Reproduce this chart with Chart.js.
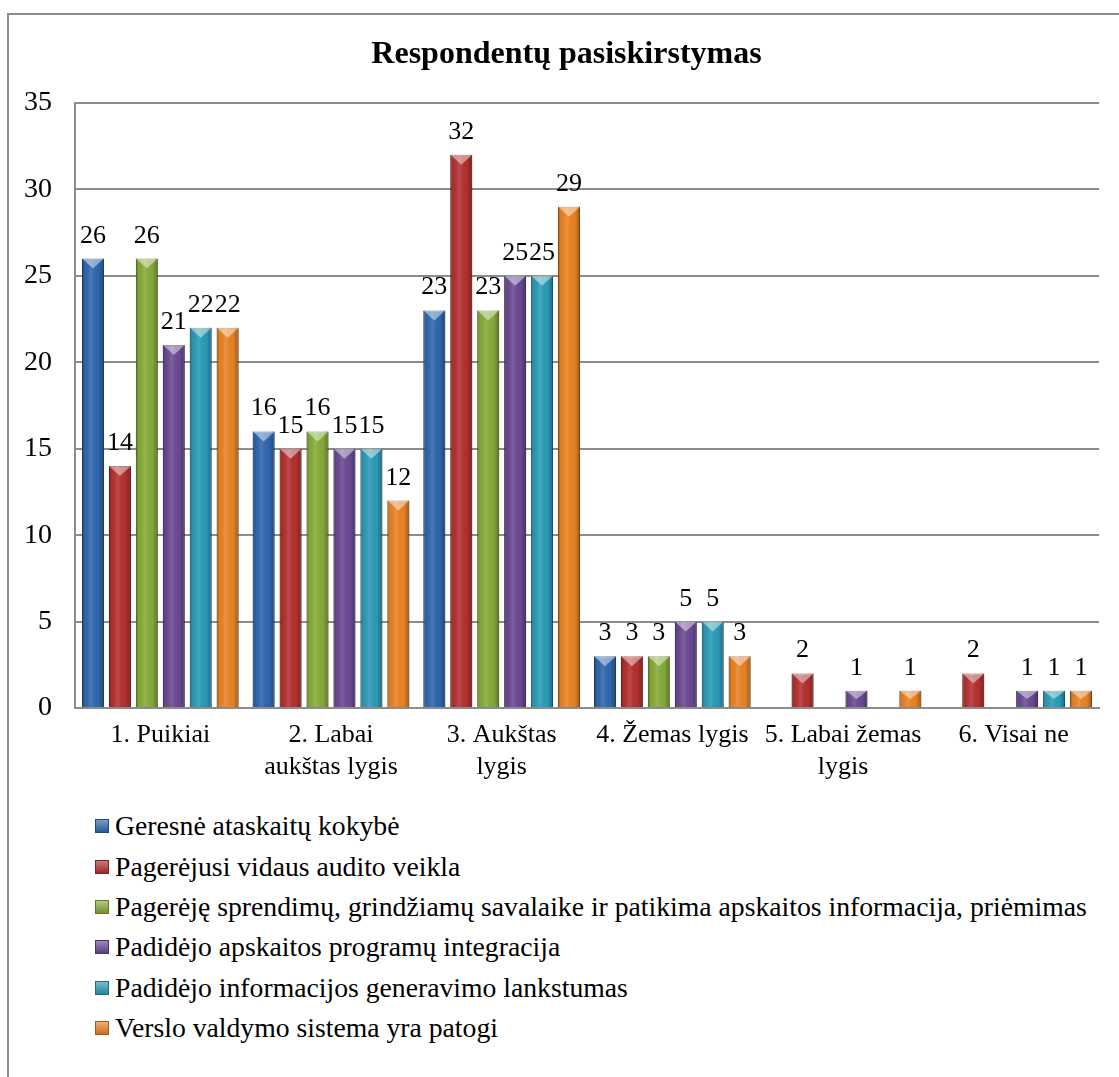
<!DOCTYPE html>
<html>
<head>
<meta charset="utf-8">
<script src="https://cdn.jsdelivr.net/npm/chart.js@4.4.0/dist/chart.umd.min.js"></script>
<style>
  html, body { margin: 0; padding: 0; background: #fff; }
  #page { position: relative; width: 1119px; height: 1077px; overflow: hidden; font-family: 'Liberation Serif', 'Times New Roman', serif; }
  #frame { position: absolute; left: 7px; top: 13px; right: -10px; bottom: -10px; border-left: 2px solid #8c8c8c; border-top: 2px solid #8c8c8c; }
  #wrap { position: absolute; left: 0; top: 0; width: 1119px; height: 791px; }
  #legend { position: absolute; left: 95px; top: 806px; }
  .row { height: 40.4px; display: flex; align-items: center; font-size: 27.7px; color: #000; white-space: nowrap; }
  .box { width: 14px; height: 14px; margin-right: 6px; box-sizing: border-box; }
</style>
</head>
<body>
<div id="page">
  <div id="frame"></div>
  <div id="wrap"><canvas id="chart"></canvas></div>
  <div id="legend"></div>
</div>
<script>
const title = 'Respondentų pasiskirstymas';

const categories = [
  '1. Puikiai',
  ['2. Labai', 'aukštas lygis'],
  ['3. Aukštas', 'lygis'],
  '4. Žemas lygis',
  ['5. Labai žemas', 'lygis'],
  '6. Visai ne'
];

const seriesNames = [
  'Geresnė ataskaitų kokybė',
  'Pagerėjusi vidaus audito veikla',
  'Pagerėję sprendimų, grindžiamų savalaike ir patikima apskaitos informacija, priėmimas',
  'Padidėjo apskaitos programų integracija',
  'Padidėjo informacijos generavimo lankstumas',
  'Verslo valdymo sistema yra patogi'
];

const ataskaituKokybe = [26, 16, 23, 3, null, null];
const vidausAuditas = [14, 15, 32, 3, 2, 2];
const sprendimai = [26, 16, 23, 3, null, null];
const integracija = [21, 15, 25, 5, 1, 1];
const lankstumas = [22, 15, 25, 5, null, 1];
const patogi = [22, 12, 29, 3, 1, 1];

const yTicks = [0, 5, 10, 15, 20, 25, 30, 35];

const seriesValues = [ataskaituKokybe, vidausAuditas, sprendimai, integracija, lankstumas, patogi];
const colors = ['#2F67AE', '#B53030', '#87AC38', '#6B4A94', '#2A9CB8', '#EC8323'];
const borders = ['#1F4A80', '#802020', '#5F7C25', '#4A3268', '#1D6F84', '#A85A15'];

const font = "'Liberation Serif', 'Times New Roman', serif";

// bevelled bars + value labels
const bevel = {
  id: 'bevel',
  afterDatasetsDraw(chart) {
    const ctx = chart.ctx;
    chart.data.datasets.forEach((ds, i) => {
      const meta = chart.getDatasetMeta(i);
      meta.data.forEach((bar, j) => {
        const v = ds.data[j];
        if (v === null || v === undefined) return;
        const w = bar.width;
        const left = bar.x - w / 2;
        const right = bar.x + w / 2;
        ctx.save();
        const g = ctx.createLinearGradient(left, 0, right, 0);
        g.addColorStop(0, 'rgba(0,0,0,0.30)');
        g.addColorStop(0.12, 'rgba(0,0,0,0.05)');
        g.addColorStop(0.4, 'rgba(255,255,255,0.12)');
        g.addColorStop(0.75, 'rgba(0,0,0,0.02)');
        g.addColorStop(1, 'rgba(0,0,0,0.32)');
        ctx.fillStyle = g;
        ctx.fillRect(left, bar.y, w, bar.base - bar.y);
        // top cap
        ctx.beginPath();
        ctx.moveTo(left, bar.y);
        ctx.lineTo(right, bar.y);
        ctx.lineTo(bar.x, bar.y + Math.min(10, (bar.base - bar.y) / 2));
        ctx.closePath();
        ctx.fillStyle = 'rgba(255,255,255,0.45)';
        ctx.fill();
        // value label
        ctx.fillStyle = '#000';
        ctx.font = '26px ' + font;
        ctx.textAlign = 'center';
        ctx.textBaseline = 'alphabetic';
        ctx.fillText(String(v), bar.x, bar.y - 16);
        ctx.restore();
      });
    });
  }
};

// title centred in the outer frame rather than the canvas padding box
const frameTitle = {
  id: 'frameTitle',
  afterDraw(chart) {
    const ctx = chart.ctx;
    ctx.save();
    ctx.fillStyle = '#000';
    ctx.font = 'bold 32px ' + font;
    ctx.textAlign = 'center';
    ctx.textBaseline = 'alphabetic';
    ctx.fillText(title, (chart.width + 14) / 2, 63);
    ctx.restore();
  }
};

const datasets = seriesNames.map((name, i) => ({
  label: name,
  data: seriesValues[i],
  backgroundColor: colors[i],
  borderColor: borders[i],
  borderWidth: 1,
  categoryPercentage: 0.947,
  barPercentage: 0.815
}));

const chart = new Chart(document.getElementById('chart'), {
  type: 'bar',
  data: { labels: categories, datasets: datasets },
  options: {
    responsive: true,
    maintainAspectRatio: false,
    animation: false,
    layout: { padding: { left: 1, right: 20, top: 103, bottom: 5 } },
    plugins: {
      legend: { display: false },
      tooltip: { enabled: false },
      title: { display: false }
    },
    scales: {
      x: {
        grid: { display: false },
        border: { display: true, color: '#8c8c8c', width: 2 },
        ticks: { color: '#000', font: { family: font, size: 26, lineHeight: 1.23 }, padding: 3, maxRotation: 0, autoSkip: false }
      },
      y: {
        min: 0,
        max: 35,
        afterBuildTicks(axis) { axis.ticks = yTicks.map(v => ({ value: v })); },
        grid: { color: '#8c8c8c', lineWidth: 2, drawTicks: false },
        border: { display: true, color: '#8c8c8c', width: 2 },
        ticks: { color: '#000', font: { family: font, size: 28 }, padding: 23 }
      }
    }
  },
  plugins: [bevel, frameTitle]
});

// legend, one series per row
const legend = document.getElementById('legend');
chart.data.datasets.forEach((ds, i) => {
  const row = document.createElement('div');
  row.className = 'row';
  const box = document.createElement('span');
  box.className = 'box';
  box.style.background = 'linear-gradient(180deg, rgba(255,255,255,0.35), rgba(0,0,0,0.15)), ' + colors[i];
  box.style.border = '1px solid ' + borders[i];
  const txt = document.createElement('span');
  txt.textContent = ds.label;
  row.appendChild(box);
  row.appendChild(txt);
  legend.appendChild(row);
});
</script>
</body>
</html>
